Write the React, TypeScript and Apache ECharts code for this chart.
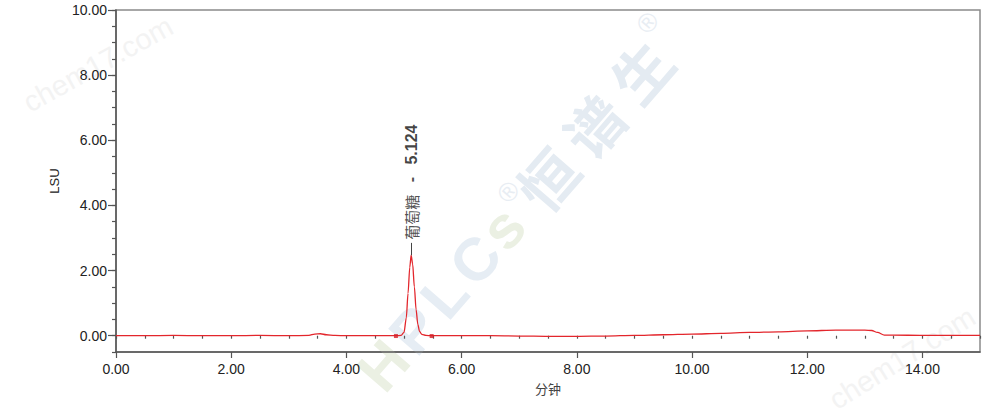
import React, { useEffect, useRef } from "react";
import * as echarts from "echarts";

// Chromatogram (time in minutes, signal in LSU)
const times = [
  0, 0.5, 1.0, 1.5, 2.0, 2.5, 3.0, 3.35, 3.45, 3.55, 3.65, 3.8, 4.0, 4.4, 4.7,
  4.86, 4.95, 5.0, 5.04, 5.07, 5.1, 5.124, 5.15, 5.18, 5.21, 5.24, 5.27, 5.31,
  5.38, 5.48, 5.7, 6.0, 6.5, 7.0, 7.5, 8.0, 8.5, 9.0, 9.5, 10.0, 10.5, 11.0,
  11.5, 12.0, 12.5, 13.0, 13.12, 13.22, 13.34, 13.5, 14.0, 14.5, 15.0,
];
const lsu = [
  0.0, 0.0, 0.01, 0.0, 0.0, 0.01, 0.0, 0.01, 0.05, 0.06, 0.03, 0.01, 0.0, 0.0,
  0.0, 0.0, 0.01, 0.1, 0.55, 1.3, 2.1, 2.47, 2.2, 1.5, 0.8, 0.35, 0.13, 0.04,
  0.01, 0.0, 0.0, 0.0, 0.0, -0.01, -0.02, -0.02, -0.01, 0.01, 0.03, 0.05, 0.07,
  0.1, 0.12, 0.15, 0.17, 0.17, 0.16, 0.1, 0.02, 0.02, 0.01, 0.01, 0.01,
];
const peakName = "葡萄糖";
const peakTime = 5.124;
const peakValue = 2.47;
const markerTimes = [4.86, 5.48];
const markerValues = [-0.01, -0.01];
const xLabelValues = [0, 2, 4, 6, 8, 10, 12, 14];
const yLabelValues = [0, 2, 4, 6, 8, 10];

const FONT = "'Liberation Sans', Arial, 'Noto Sans CJK SC', sans-serif";

export default function App() {
  const ref = useRef<HTMLDivElement>(null);
  useEffect(() => {
    if (!ref.current) return;
    const chart = echarts.init(ref.current, undefined, { renderer: "svg" });
    const deg = Math.PI / 180;
    const wmBlue = "#e6edf4";
    const wmGreen = "#ebf0e3";
    const wmLatin = (text: string, x: number, fill: string) => ({
      type: "text",
      x,
      y: 0,
      style: {
        text,
        fill,
        fontSize: 60,
        fontWeight: "bold",
        fontFamily: "'Liberation Sans', Arial, sans-serif",
        align: "center",
        verticalAlign: "middle",
      },
    });
    const wmCjk = (text: string, x: number) => ({
      type: "text",
      x,
      y: 0,
      style: {
        text,
        fill: "#e4ebf2",
        fontSize: 58,
        fontWeight: "bold",
        fontFamily: "'Noto Sans CJK SC', sans-serif",
        align: "center",
        verticalAlign: "middle",
      },
    });
    const wmReg = (x: number, y: number) => ({
      type: "text",
      x,
      y,
      style: {
        text: "®",
        fill: "#e8edf3",
        fontSize: 26,
        fontFamily: "'Liberation Sans', Arial, sans-serif",
        align: "center",
        verticalAlign: "middle",
      },
    });
    const chem = (x: number, y: number, rot: number) => ({
      type: "text",
      x,
      y,
      rotation: rot * deg,
      z: -10,
      style: {
        text: "chem17.com",
        fill: "#f3f3f3",
        fontSize: 29,
        fontFamily: "'Liberation Sans', Arial, sans-serif",
        align: "center",
        verticalAlign: "middle",
      },
    });

    chart.setOption({
      animation: false,
      backgroundColor: "#ffffff",
      graphic: [
        chem(98, 64, 29),
        chem(902, 358, 32),
        {
          type: "group",
          x: 545,
          y: 180,
          rotation: 49 * deg,
          z: -10,
          children: [
            wmLatin("H", -246, wmGreen),
            wmLatin("P", -199, wmBlue),
            wmLatin("L", -153, wmBlue),
            wmLatin("C", -106, wmBlue),
            wmLatin("s", -64, wmGreen),
            wmReg(-33, -20),
            wmCjk("恒", 2),
            wmCjk("谱", 73),
            wmCjk("生", 145),
            wmReg(186, -26),
          ],
        },
      ],
      grid: {
        left: 116,
        right: 20,
        top: 10,
        bottom: 67,
        show: true,
        borderColor: "#8a8a8a",
        borderWidth: 1.5,
        backgroundColor: "transparent",
      },
      xAxis: [
        {
          type: "value",
          min: 0,
          max: 15,
          interval: 2,
          position: "bottom",
          axisLine: { show: true, onZero: false, lineStyle: { color: "#555", width: 1.5 } },
          axisTick: {
            show: true,
            customValues: xLabelValues,
            length: 6,
            lineStyle: { color: "#555", width: 1.2 },
          },
          axisLabel: {
            customValues: xLabelValues,
            formatter: (v: number) => v.toFixed(2),
            fontSize: 14,
            color: "#222",
            margin: 10,
            fontFamily: FONT,
          },
          splitLine: { show: false },
          name: "分钟",
          nameLocation: "middle",
          nameGap: 31,
          nameTextStyle: { fontSize: 13, color: "#444", fontFamily: FONT },
        },
        {
          type: "value",
          min: 0,
          max: 15,
          interval: 0.5,
          position: "bottom",
          axisLine: { show: false },
          axisTick: { show: true, length: 3, lineStyle: { color: "#555", width: 1.2 } },
          axisLabel: { show: false },
          splitLine: { show: false },
        },
      ],
      yAxis: [
        {
          type: "value",
          min: -0.5,
          max: 10,
          interval: 0.5,
          position: "left",
          axisLine: { show: true, onZero: false, lineStyle: { color: "#555", width: 1.5 } },
          axisTick: {
            show: true,
            customValues: yLabelValues,
            length: 8,
            lineStyle: { color: "#555", width: 1.2 },
          },
          axisLabel: {
            customValues: yLabelValues,
            formatter: (v: number) => v.toFixed(2),
            fontSize: 14,
            color: "#222",
            margin: 9,
            fontFamily: FONT,
          },
          splitLine: { show: false },
          name: "LSU",
          nameLocation: "middle",
          nameGap: 54,
          nameTextStyle: { fontSize: 13, color: "#222", fontFamily: FONT },
        },
        {
          type: "value",
          min: -0.5,
          max: 10,
          interval: 0.5,
          position: "left",
          axisLine: { show: false },
          axisTick: { show: true, length: 4, lineStyle: { color: "#555", width: 1.2 } },
          axisLabel: { show: false },
          splitLine: { show: false },
        },
      ],
      series: [
        {
          type: "line",
          xAxisIndex: 0,
          yAxisIndex: 0,
          data: times.map((t, i) => [t, lsu[i]]),
          showSymbol: false,
          smooth: 0.3,
          smoothMonotone: "x",
          lineStyle: { color: "#e3262c", width: 1.3 },
          itemStyle: { color: "#e3262c" },
          z: 3,
        },
        {
          type: "scatter",
          xAxisIndex: 0,
          yAxisIndex: 0,
          data: markerTimes.map((t, i) => [t, markerValues[i]]),
          symbol: "rect",
          symbolSize: 4,
          itemStyle: { color: "#d42028" },
          z: 4,
        },
        {
          type: "scatter",
          xAxisIndex: 0,
          yAxisIndex: 0,
          data: [[peakTime, peakValue]],
          symbol: "circle",
          symbolSize: 1,
          itemStyle: { color: "rgba(0,0,0,0)" },
          z: 5,
          label: {
            show: true,
            position: "top",
            distance: 15,
            rotate: 90,
            align: "left",
            verticalAlign: "middle",
            formatter: () => `{n|${peakName}}{d| - }{v|${peakTime.toFixed(3)}}`,
            rich: {
              n: { fontSize: 15, color: "#222", fontFamily: "'Noto Sans CJK SC', sans-serif" },
              d: { fontSize: 16, color: "#222", fontFamily: FONT, fontWeight: "bold", padding: [0, 8] },
              v: { fontSize: 16, color: "#111", fontFamily: FONT, fontWeight: "bold" },
            },
          },
          markLine: {
            silent: true,
            symbol: ["none", "none"],
            label: { show: false },
            lineStyle: { color: "#444", width: 1, type: "solid" },
            data: [[{ coord: [peakTime, peakValue] }, { coord: [peakTime, 2.85] }]],
          },
        },
      ],
    });
    return () => chart.dispose();
  }, []);
  return (
    <div
      ref={ref}
      style={{ position: "fixed", left: 0, top: 0, width: 1000, height: 419 }}
    />
  );
}
